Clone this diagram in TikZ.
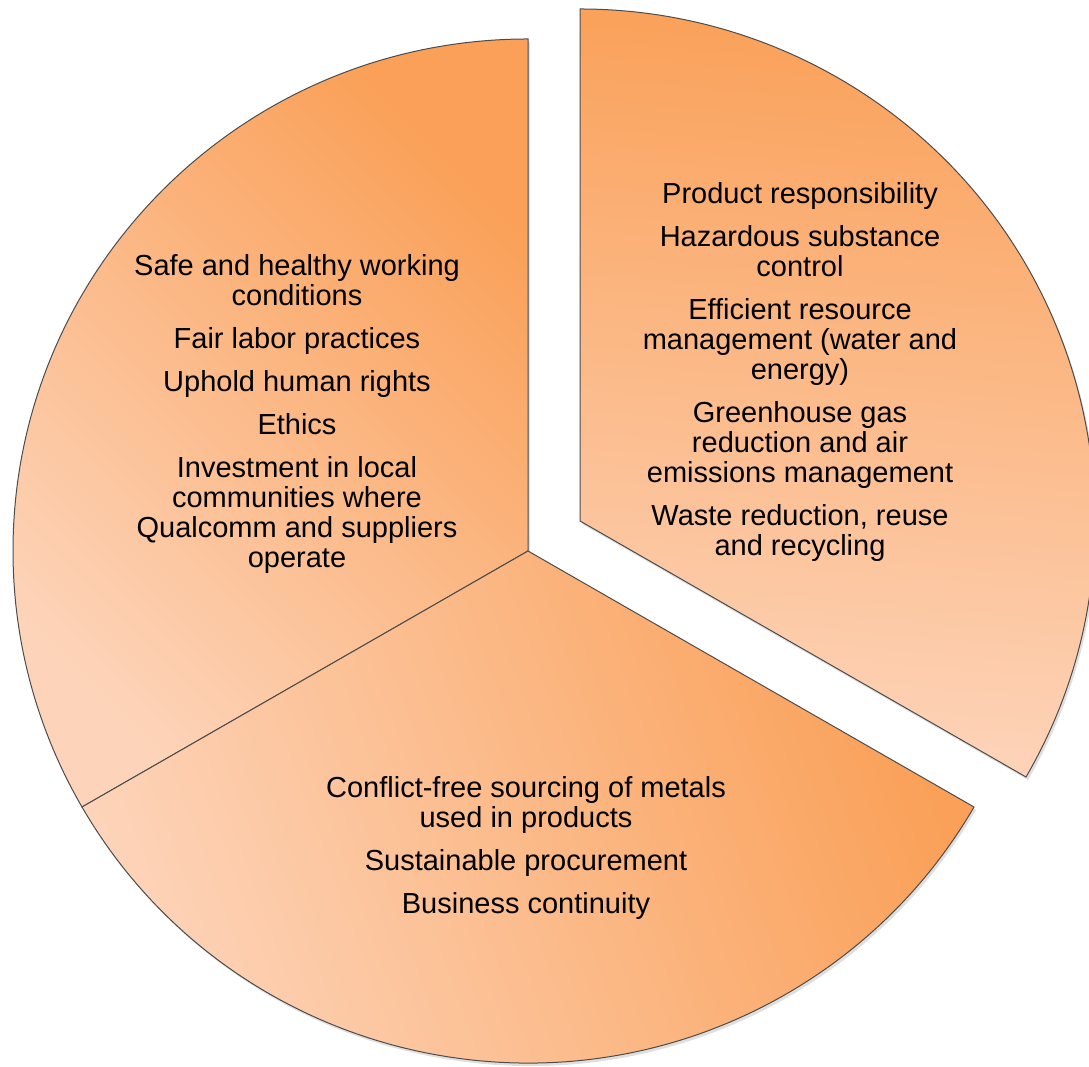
\documentclass[tikz,border=0pt]{standalone}
\usepackage{fontspec}
\setmainfont{Liberation Sans}
\usetikzlibrary{shadows}
\definecolor{orgDark}{RGB}{250,160,88}
\definecolor{orgLight}{RGB}{253,212,186}
\begin{document}
\begin{tikzpicture}[x=1pt,y=1pt,
  wedge/.style={draw=black!70,line width=1pt,top color=orgDark,bottom color=orgLight,
    drop shadow={shadow xshift=2pt,shadow yshift=-3pt,opacity=0.25}},
  itemtext/.style={align=center,inner sep=0pt,anchor=north,font=\fontsize{29}{30}\selectfont}]
\def\rx{515}
\def\ry{512}
\useasboundingbox (0,0) rectangle (1089,1067);
\coordinate (O) at (528,516);
\coordinate (E) at (580,546);
\path[wedge,shading angle=-45] (O) -- ++(90:\rx pt and \ry pt)
  arc[start angle=90,end angle=210,x radius=\rx pt,y radius=\ry pt] -- cycle;
\path[wedge,shading angle=-70] (O) -- ++(210:\rx pt and \ry pt)
  arc[start angle=210,end angle=330,x radius=\rx pt,y radius=\ry pt] -- cycle;
\path[wedge,shading angle=-5] (E) -- ++(-30:\rx pt and \ry pt)
  arc[start angle=-30,end angle=90,x radius=\rx pt,y radius=\ry pt] -- cycle;
\node[itemtext] (people) at (297,813) {Safe and healthy working\\conditions\\[13pt]Fair labor practices\\[13pt]Uphold human rights\\[13pt]Ethics\\[13pt]Investment in local\\communities where\\Qualcomm and suppliers\\operate};
\node[itemtext] (environment) at (800,885) {Product responsibility\\[13pt]Hazardous substance\\control\\[13pt]Efficient resource\\management (water and\\energy)\\[13pt]Greenhouse gas\\reduction and air\\emissions management\\[13pt]Waste reduction, reuse\\and recycling};
\node[itemtext] (supply) at (526,291) {Conflict-free sourcing of metals\\used in products\\[13pt]Sustainable procurement\\[13pt]Business continuity};
\end{tikzpicture}
\end{document}
